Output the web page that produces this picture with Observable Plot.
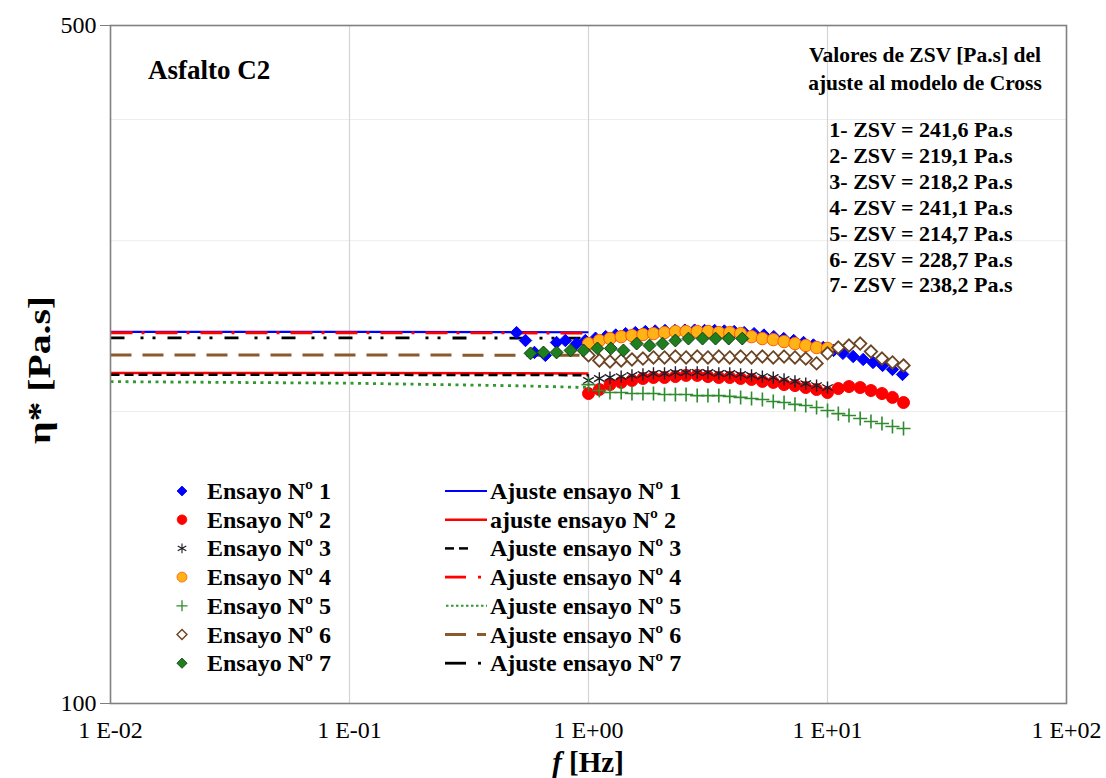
<!DOCTYPE html>
<html><head><meta charset="utf-8">
<script src="https://cdn.jsdelivr.net/npm/d3@7"></script>
<script src="https://cdn.jsdelivr.net/npm/@observablehq/plot@0.6"></script>
<style>
body{margin:0;background:#fff;}
#chart{width:1106px;height:778px;}
</style></head><body><div id="chart"></div>
<script>
// ---------- data ----------
const xTicks = [0.01, 0.1, 1, 10, 100];
const xTickLabels = ["1 E-02", "1 E-01", "1 E+00", "1 E+01", "1 E+02"];
const yTicks = [100, 500];

const freqBlue = [0.50,0.545,0.594,0.66,0.735,0.80,0.89,0.97,1.07,1.18,1.30,1.43,1.57,1.73,1.90,2.09,2.30,2.53,2.78,3.06,3.37,3.70,4.07,4.48,4.93,5.42,5.96,6.56,7.22,7.94,8.73,9.60,10.6,11.6,12.8,14.1,15.5,17.0,18.7,20.6];
const freqA = [1.00,1.11,1.23,1.37,1.52,1.69,1.87,2.08,2.31,2.56,2.85,3.16,3.51,3.90,4.33,4.81,5.34,5.93,6.58,7.31,8.11,9.00,10.0,11.1,12.3,13.7,15.2,16.9,18.7,20.8];
const freqTo10 = [1.00,1.11,1.23,1.37,1.52,1.69,1.87,2.08,2.31,2.56,2.85,3.16,3.51,3.90,4.33,4.81,5.34,5.93,6.58,7.31,8.11,9.00,10.0];
const freq7 = [0.572,0.648,0.735,0.841,0.953,1.09,1.24,1.40,1.59,1.80,2.04,2.31,2.62,3.00,3.40,3.86,4.40];

const eta1 = [241.2,236.7,230.1,228.5,235.6,236.7,235.0,236.7,
  238.0,238.9,239.8,240.6,241.2,241.8,242.1,242.4,242.4,242.6,242.6,242.4,242.4,242.1,241.8,241.2,
  240.6,239.8,238.9,237.8,236.7,235.6,234.2,232.8,231.2,229.6,227.9,226.3,224.7,223.1,221.0,218.4];
const eta2 = [208.7,210.7,213.2,214.3,215.3,216.3,216.8,216.8,217.3,217.9,217.9,217.3,216.8,216.8,216.3,215.8,
  214.8,214.3,213.2,212.7,211.7,210.7,209.2,211.2,212.2,211.7,210.2,208.7,206.8,204.3];
const eta3 = [215.3,216.3,216.8,217.3,217.9,218.4,218.9,218.9,219.4,219.4,219.4,219.4,218.9,218.9,218.4,217.9,
  217.3,216.8,215.8,214.8,213.7,212.7,211.7];
const eta4 = [235.0,236.7,237.8,238.9,239.5,240.1,240.6,241.2,241.8,241.8,241.8,241.8,241.2,241.2,240.6,238.9,
  237.8,237.2,236.1,235.0,233.9,232.8,232.3];
const eta5 = [213.2,210.2,209.2,209.2,208.7,208.7,208.7,208.2,208.2,208.2,207.7,207.7,207.7,207.3,206.8,206.3,
  205.8,204.8,204.3,203.4,202.9,201.9,200.5,199.0,198.1,196.7,195.3,194.4,193.0,192.1];
const eta6 = [228.5,225.8,225.2,225.8,226.3,226.8,227.4,227.4,227.9,227.4,227.9,227.4,227.9,227.4,227.9,227.4,
  227.9,227.4,227.9,227.4,226.8,224.2,229.6,232.8,233.9,235.0,230.6,226.8,224.7,223.1];
const eta7 = [229.6,230.1,230.1,231.2,231.2,232.3,232.3,231.2,235.0,233.9,235.0,236.7,237.8,237.8,237.8,237.8,237.8];

const fitFreq = [0.01, 0.1, 0.5, 1.0];
const fit1 = [241.6, 241.6, 241.5, 241.4];
const fit2 = [219.1, 219.1, 219.0, 218.9];
const fit3 = [218.2, 218.2, 218.1, 218.0];
const fit4 = [241.1, 241.1, 241.0, 240.9];
const fit5 = [214.7, 213.9, 212.6, 211.7];
const fit6 = [228.7, 228.7, 228.6, 228.5];
const fit7 = [238.2, 238.2, 238.1, 238.0];

const seriesNames = ["Ensayo Nº 1","Ensayo Nº 2","Ensayo Nº 3","Ensayo Nº 4","Ensayo Nº 5","Ensayo Nº 6","Ensayo Nº 7"];
const fitNames = ["Ajuste ensayo Nº 1","ajuste ensayo Nº 2","Ajuste ensayo Nº 3","Ajuste ensayo Nº 4","Ajuste ensayo Nº 5","Ajuste ensayo Nº 6","Ajuste ensayo Nº 7"];
const zsvLines = ["1- ZSV = 241,6 Pa.s","2- ZSV = 219,1 Pa.s","3- ZSV = 218,2 Pa.s","4- ZSV = 241,1 Pa.s","5- ZSV = 214,7 Pa.s","6- ZSV = 228,7 Pa.s","7- ZSV = 238,2 Pa.s"];

// ---------- styles ----------
const FONT = "'Liberation Serif','Times New Roman',serif";
const mk = (f, v) => f.map((x, i) => ({f: x, v: v[i]}));

const dotStyles = [
  {symbol:"diamond2", fill:"#0000ff", stroke:"#0000ff", strokeWidth:1, r:5.6},
  {symbol:"circle", fill:"#ff0000", stroke:"#ff0000", strokeWidth:1, r:6},
  {symbol:"asterisk", fill:"none", stroke:"#1e1e28", strokeWidth:1.4, r:5.8},
  {symbol:"circle", fill:"#ffb316", stroke:"#ff5a00", strokeWidth:1, r:6.2},
  {symbol:"plus", fill:"none", stroke:"#2e8b2e", strokeWidth:1.6, r:4.6},
  {symbol:"diamond2", fill:"#ffffff", stroke:"#6b4423", strokeWidth:1.8, r:5.6},
  {symbol:"diamond2", fill:"#1f7f1f", stroke:"#0d3d0d", strokeWidth:1, r:5.8}
];
const fitStyles = [
  {stroke:"#0000ff", strokeWidth:2.2, dash:null},
  {stroke:"#ff0000", strokeWidth:2.5, dash:null},
  {stroke:"#000000", strokeWidth:2.5, dash:"9,5"},
  {stroke:"#ff0000", strokeWidth:2.8, dash:"22,9,3,11"},
  {stroke:"#2e9a2e", strokeWidth:2.8, dash:"3,4.5"},
  {stroke:"#8b5a2b", strokeWidth:3, dash:"21,11"},
  {stroke:"#000000", strokeWidth:2.8, dash:"14,16,3,9,3,12"}
];

const dotData = [mk(freqBlue, eta1), mk(freqA, eta2), mk(freqTo10, eta3), mk(freqTo10, eta4), mk(freqA, eta5), mk(freqA, eta6), mk(freq7, eta7)];
const fitData = [fit1, fit2, fit3, fit4, fit5, fit6, fit7].map(v => mk(fitFreq, v));

const fitMarks = fitData.map((d, i) => Plot.line(d, {
  x: "f", y: "v", stroke: fitStyles[i].stroke, strokeWidth: fitStyles[i].strokeWidth,
  strokeDasharray: fitStyles[i].dash || undefined, strokeLinecap: "butt"
}));
const dotMarks = dotData.map((d, i) => Plot.dot(d, {x: "f", y: "v", ...dotStyles[i]}));

const chart = Plot.plot({
  width: 1106, height: 778,
  marginLeft: 110, marginRight: 40, marginTop: 25, marginBottom: 75,
  style: {fontFamily: FONT, fontSize: "24px", color: "#000", background: "#fff"},
  x: {type: "log", domain: [0.01, 100]},
  y: {type: "log", domain: [100, 500]},
  marks: [
    Plot.gridY([200, 300, 400], {stroke: "#ededed", strokeOpacity: 1, strokeWidth: 1}),
    Plot.gridX([0.1, 1, 10], {stroke: "#d4d4d4", strokeOpacity: 1, strokeWidth: 1.2}),
    Plot.axisX(xTicks, {tickSize: 0, tickPadding: 17, tickFormat: (d) => xTickLabels[xTicks.indexOf(d)], label: null, fontSize: 24}),
    Plot.axisY(yTicks, {tickSize: 10, tickPadding: 4, tickFormat: (d) => String(d), label: null, fontSize: 24, stroke: "#7f7f7f"}),
    ...fitMarks,
    ...dotMarks,
    Plot.frame({stroke: "#808080", strokeWidth: 1.6})
  ]
});
document.getElementById("chart").appendChild(chart);

// ---------- annotations & legend ----------
const svg = d3.select(chart);
const g = svg.append("g").attr("font-family", FONT).attr("font-weight", "bold").attr("fill", "#000").attr("text-anchor", "start");

g.append("text").attr("x", 148).attr("y", 79).attr("font-size", 27).text("Asfalto C2");

const hdr = g.append("g").attr("text-anchor", "middle");
hdr.append("text").attr("x", 925).attr("y", 62).attr("font-size", 21.5).text("Valores de ZSV [Pa.s] del");
hdr.append("text").attr("x", 925).attr("y", 90).attr("font-size", 21.5).text("ajuste al modelo de Cross");
zsvLines.forEach((t, i) => hdr.append("text").attr("x", 921).attr("y", 137 + i * 25.9).attr("font-size", 22).text(t));

// axis titles
g.append("text").attr("text-anchor", "middle").attr("font-size", 31)
  .attr("transform", "translate(50,370) rotate(-90) scale(1.28,1)").text("η* [Pa.s]");
const xl = g.append("text").attr("text-anchor", "middle").attr("x", 588).attr("y", 772).attr("font-size", 29);
xl.append("tspan").attr("font-style", "italic").text("f");
xl.append("tspan").text(" [Hz]");

// legend
const leg = g.append("g").attr("font-size", 24).attr("text-anchor", "start");
const rowY = (i) => 491 + i * 28.7;
seriesNames.forEach((name, i) => {
  const s = dotStyles[i];
  const sym = {diamond2: d3.symbolDiamond2, circle: d3.symbolCircle, asterisk: d3.symbolAsterisk, plus: d3.symbolPlus}[s.symbol];
  const rr = s.r * 0.8;
  leg.append("path")
    .attr("transform", `translate(182,${rowY(i)})`)
    .attr("d", d3.symbol(sym, Math.PI * rr * rr)())
    .attr("fill", s.fill).attr("stroke", s.stroke).attr("stroke-width", s.strokeWidth * 0.8);
  leg.append("text").attr("x", 207).attr("y", rowY(i) + 8).text(name);
});
fitNames.forEach((name, i) => {
  const s = fitStyles[i];
  const y = rowY(i);
  const seg = (x1, x2) => leg.append("line").attr("x1", x1).attr("x2", x2).attr("y1", y).attr("y2", y)
    .attr("stroke", s.stroke).attr("stroke-width", s.strokeWidth);
  if (i === 2) { seg(445, 454); seg(459, 468); }
  else if (i === 3 || i === 6) { seg(445, 466); seg(478, 481); }
  else if (i === 5) { seg(445, 466); seg(477, 486); }
  else if (i === 4) { seg(446, 487).attr("stroke-dasharray", "2.5,2.5").attr("stroke-width", 2); }
  else { seg(445, 487); }
  leg.append("text").attr("x", 490).attr("y", y + 8).text(name);
});
</script></body></html>
